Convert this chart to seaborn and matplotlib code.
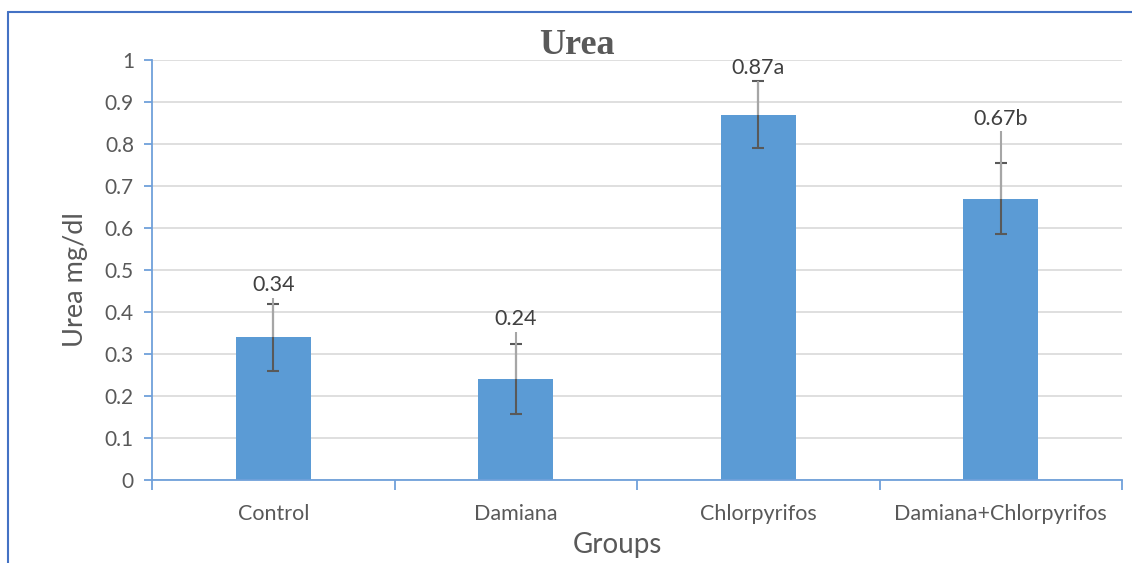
import matplotlib
matplotlib.use("Agg")
import matplotlib.pyplot as plt
from matplotlib.lines import Line2D
import seaborn as sns
import pandas as pd
import numpy as np

groups = ["Control", "Damiana", "Chlorpyrifos", "Damiana+Chlorpyrifos"]
values = [0.34, 0.24, 0.87, 0.67]
errors = [0.08, 0.083, 0.08, 0.085]
ext_top = [0.433, 0.352, 0.95, 0.83]
labels = ["0.34", "0.24", "0.87a", "0.67b"]
yticks = [0, 0.1, 0.2, 0.3, 0.4, 0.5, 0.6, 0.7, 0.8, 0.9, 1]
ytick_labels = ["0", "0.1", "0.2", "0.3", "0.4", "0.5", "0.6", "0.7", "0.8", "0.9", "1"]

df = pd.DataFrame({"Groups": groups, "Urea": values})

sns.set_theme(style="white")
plt.rcParams["font.family"] = ["Lato", "DejaVu Sans"]

txt = "#595959"
blue_line = "#6FA0DA"

fig = plt.figure(figsize=(11.32, 5.63), dpi=100)
ax = fig.add_axes([152 / 1132, 1 - 480 / 563, (1122 - 152) / 1132, 420 / 563])

sns.barplot(data=df, x="Groups", y="Urea", color="#5B9BD5", saturation=1,
            width=0.31, ax=ax, zorder=2, linewidth=0)

x = np.arange(len(groups))
ax.errorbar(x, values, yerr=errors, fmt="none", ecolor="#595959",
            elinewidth=1.5, capsize=4.5, capthick=1.5, zorder=3)
ax.vlines(x, values, ext_top, colors="#A6A6A6", linewidth=1.5, zorder=4)

for xi, top, lab in zip(x, ext_top, labels):
    ax.annotate(lab, (xi, top), xytext=(0, 2), textcoords="offset points",
                ha="center", va="bottom", fontsize=15.5, color="#404040")

ax.set_ylim(0, 1)
ax.set_xlim(-0.5, 3.5)
ax.set_yticks(yticks)
ax.set_yticklabels(ytick_labels)
ax.yaxis.grid(True, color="#D9D9D9", linewidth=1.2, zorder=0)
ax.set_axisbelow(True)

for s in ["top", "right"]:
    ax.spines[s].set_visible(False)
for s in ["left", "bottom"]:
    ax.spines[s].set_color(blue_line)
    ax.spines[s].set_linewidth(1.3)

ax.tick_params(axis="y", which="major", left=True, length=6, width=1.3,
               color=blue_line, labelsize=15, labelcolor=txt, pad=7)
ax.tick_params(axis="x", which="major", bottom=False, labelsize=15.5,
               labelcolor=txt, pad=11)
ax.set_xticks([-0.5, 0.5, 1.5, 2.5, 3.5], minor=True)
ax.tick_params(axis="x", which="minor", bottom=True, length=7, width=1.3,
               color=blue_line)

ax.set_xlabel("Groups", fontsize=20, color=txt)
ax.xaxis.set_label_coords((617 - 152) / (1122 - 152), -(545 - 480) / 420)
ax.xaxis.label.set_va("center")
ax.set_ylabel("Urea mg/dl", fontsize=19.5, color=txt)
ax.yaxis.set_label_coords(-(152 - 75) / (1122 - 152), (480 - 280) / 420)
ax.yaxis.label.set_va("center")

fig.text(0.51, 1 - 45 / 563, "Urea", ha="center", va="center",
         fontsize=26, fontweight="bold", color=txt,
         family=["Liberation Serif", "DejaVu Serif"])

# outer chart border (left and top edges)
fig.add_artist(Line2D([8 / 1132, 8 / 1132], [0, 1 - 12 / 563],
                      transform=fig.transFigure, color="#4472C4", linewidth=1.5))
fig.add_artist(Line2D([8 / 1132, 1], [1 - 12 / 563, 1 - 12 / 563],
                      transform=fig.transFigure, color="#4472C4", linewidth=1.5))

fig.savefig("out.png", dpi=100)
